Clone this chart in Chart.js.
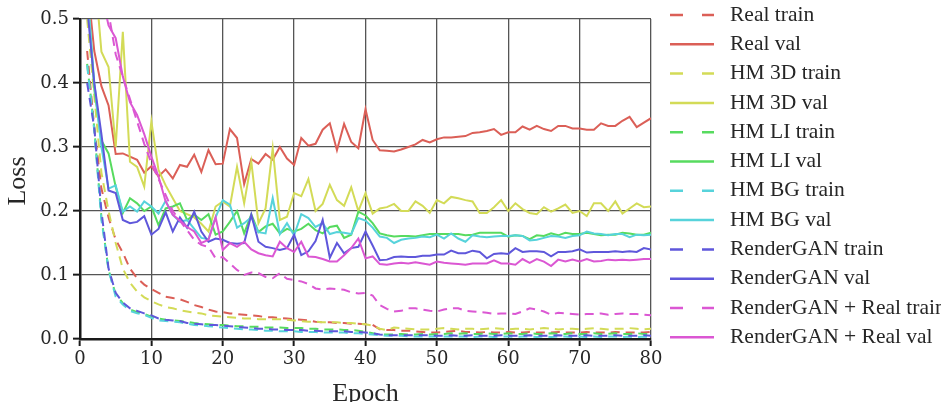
<!DOCTYPE html>
<html><head><meta charset="utf-8">
<script src="https://cdn.jsdelivr.net/npm/chart.js@4/dist/chart.umd.min.js"></script>
<style>html,body{margin:0;padding:0;background:#fff;overflow:hidden}canvas{display:block}</style>
</head><body>
<canvas id="c" width="941" height="402"></canvas>
<script>
const epochs = [1,2,3,4,5,6,7,8,9,10,11,12,13,14,15,16,17,18,19,20,21,22,23,24,25,26,27,28,29,30,31,32,33,34,35,36,37,38,39,40,41,42,43,44,45,46,47,48,49,50,51,52,53,54,55,56,57,58,59,60,61,62,63,64,65,66,67,68,69,70,71,72,73,74,75,76,77,78,79,80];

const seriesNames = ['Real train','Real val','HM 3D train','HM 3D val','HM LI train','HM LI val','HM BG train','HM BG val','RenderGAN train','RenderGAN val','RenderGAN + Real train','RenderGAN + Real val'];

const xTicks = [0,10,20,30,40,50,60,70,80];
const yTicks = [0.0,0.1,0.2,0.3,0.4,0.5];

const realTrain = [0.45,0.33,0.235,0.19,0.155,0.135,0.11,0.095,0.085,0.078,
0.072,0.066,0.064,0.062,0.058,0.053,0.05,0.046,0.043,0.042,
0.04,0.039,0.038,0.037,0.036,0.034,0.034,0.033,0.032,0.031,
0.03,0.029,0.027,0.026,0.026,0.025,0.025,0.024,0.024,0.023,
0.022,0.015,0.014,0.014,0.013,0.013,0.012,0.011,0.01,0.01,
0.011,0.012,0.013,0.011,0.011,0.01,0.011,0.01,0.01,0.011,
0.01,0.01,0.011,0.01,0.01,0.01,0.011,0.01,0.01,0.01,
0.011,0.01,0.01,0.01,0.011,0.01,0.01,0.01,0.01,0.011];

const realVal = [0.56,0.45,0.395,0.365,0.289,0.29,0.285,0.28,0.26,0.27,
0.254,0.265,0.251,0.272,0.269,0.288,0.261,0.295,0.273,0.274,
0.328,0.314,0.242,0.281,0.274,0.289,0.28,0.30,0.282,0.272,
0.314,0.302,0.305,0.327,0.337,0.295,0.336,0.308,0.298,0.359,
0.311,0.295,0.294,0.293,0.296,0.30,0.304,0.311,0.307,0.312,
0.315,0.315,0.316,0.317,0.322,0.323,0.325,0.328,0.319,0.323,
0.323,0.332,0.327,0.333,0.328,0.325,0.333,0.333,0.329,0.329,
0.327,0.327,0.337,0.333,0.333,0.341,0.347,0.331,0.338,0.345];

const hm3dTrain = [0.5,0.38,0.26,0.2,0.15,0.11,0.088,0.074,0.065,0.059,
0.054,0.05,0.048,0.045,0.043,0.041,0.04,0.037,0.036,0.035,
0.034,0.033,0.032,0.032,0.031,0.031,0.031,0.031,0.03,0.029,
0.028,0.027,0.027,0.026,0.026,0.026,0.025,0.025,0.024,0.023,
0.021,0.016,0.014,0.018,0.017,0.016,0.015,0.015,0.015,0.016,
0.017,0.016,0.015,0.016,0.016,0.015,0.016,0.017,0.016,0.015,
0.016,0.016,0.015,0.016,0.017,0.016,0.015,0.016,0.016,0.015,
0.016,0.017,0.016,0.015,0.016,0.016,0.017,0.016,0.015,0.016];

const hm3dVal = [0.75,0.58,0.449,0.425,0.30,0.48,0.277,0.269,0.238,0.34,
0.264,0.24,0.22,0.2,0.195,0.19,0.18,0.168,0.207,0.215,
0.207,0.269,0.212,0.277,0.181,0.204,0.298,0.186,0.191,0.228,
0.223,0.25,0.20,0.211,0.241,0.217,0.208,0.237,0.20,0.228,
0.196,0.204,0.206,0.211,0.20,0.20,0.215,0.208,0.197,0.217,
0.212,0.222,0.22,0.217,0.215,0.197,0.197,0.206,0.217,0.20,
0.212,0.203,0.197,0.195,0.206,0.199,0.204,0.21,0.197,0.20,
0.192,0.212,0.212,0.20,0.215,0.196,0.204,0.212,0.206,0.207];

const hmLiTrain = [0.43,0.33,0.19,0.108,0.07,0.056,0.046,0.042,0.039,0.035,
0.032,0.03,0.029,0.028,0.027,0.025,0.024,0.023,0.022,0.022,
0.021,0.02,0.02,0.019,0.019,0.018,0.018,0.018,0.017,0.017,
0.017,0.016,0.016,0.015,0.015,0.015,0.014,0.014,0.013,0.011,
0.009,0.007,0.007,0.007,0.008,0.007,0.007,0.008,0.007,0.008,
0.008,0.009,0.008,0.009,0.008,0.008,0.009,0.008,0.008,0.009,
0.008,0.008,0.009,0.008,0.008,0.009,0.008,0.008,0.009,0.008,
0.008,0.009,0.008,0.008,0.009,0.008,0.008,0.009,0.008,0.008];

const hmLiVal = [0.55,0.39,0.31,0.29,0.238,0.197,0.22,0.212,0.2,0.207,
0.178,0.204,0.207,0.212,0.186,0.194,0.186,0.195,0.163,0.168,
0.183,0.2,0.165,0.195,0.167,0.176,0.18,0.165,0.172,0.168,
0.172,0.18,0.17,0.165,0.175,0.177,0.158,0.163,0.199,0.193,
0.181,0.165,0.162,0.16,0.161,0.161,0.16,0.162,0.164,0.164,
0.164,0.164,0.164,0.162,0.163,0.166,0.166,0.166,0.166,0.16,
0.162,0.161,0.156,0.162,0.161,0.165,0.162,0.166,0.164,0.164,
0.166,0.164,0.162,0.163,0.163,0.166,0.165,0.163,0.163,0.166];

const hmBgTrain = [0.428,0.325,0.186,0.108,0.066,0.054,0.044,0.04,0.038,0.033,
0.029,0.028,0.027,0.026,0.024,0.022,0.021,0.02,0.019,0.018,
0.017,0.016,0.015,0.015,0.014,0.013,0.013,0.012,0.012,0.012,
0.011,0.011,0.011,0.01,0.01,0.01,0.01,0.009,0.009,0.008,
0.007,0.006,0.005,0.005,0.005,0.004,0.004,0.004,0.004,0.004,
0.004,0.004,0.004,0.004,0.003,0.004,0.004,0.003,0.004,0.004,
0.003,0.004,0.004,0.003,0.004,0.003,0.004,0.004,0.003,0.004,
0.003,0.004,0.003,0.004,0.004,0.003,0.004,0.003,0.004,0.003];

const hmBgVal = [0.55,0.4,0.3,0.235,0.24,0.199,0.207,0.199,0.215,0.207,
0.196,0.216,0.194,0.183,0.186,0.172,0.158,0.156,0.19,0.217,
0.21,0.174,0.181,0.19,0.167,0.165,0.22,0.164,0.181,0.162,
0.195,0.189,0.175,0.181,0.164,0.167,0.166,0.164,0.189,0.185,
0.174,0.16,0.158,0.15,0.155,0.157,0.158,0.16,0.159,0.163,
0.157,0.165,0.157,0.152,0.162,0.16,0.159,0.16,0.161,0.161,
0.162,0.161,0.154,0.155,0.158,0.161,0.16,0.158,0.161,0.162,
0.168,0.165,0.164,0.162,0.164,0.164,0.159,0.163,0.162,0.163];

const renderganTrain = [0.40,0.33,0.2,0.11,0.072,0.057,0.048,0.044,0.04,0.037,
0.032,0.03,0.029,0.028,0.025,0.024,0.023,0.022,0.022,0.021,
0.02,0.019,0.018,0.017,0.016,0.016,0.015,0.015,0.014,0.014,
0.014,0.013,0.013,0.012,0.012,0.012,0.012,0.011,0.011,0.01,
0.009,0.007,0.006,0.006,0.006,0.006,0.006,0.006,0.006,0.005,
0.005,0.006,0.005,0.005,0.006,0.005,0.005,0.005,0.006,0.005,
0.005,0.005,0.006,0.005,0.005,0.005,0.006,0.005,0.005,0.005,
0.006,0.005,0.005,0.005,0.006,0.005,0.005,0.005,0.006,0.005];

const renderganVal = [0.52,0.4,0.32,0.232,0.228,0.186,0.181,0.183,0.192,0.163,
0.172,0.198,0.168,0.19,0.174,0.199,0.168,0.152,0.157,0.155,
0.15,0.149,0.15,0.194,0.152,0.144,0.142,0.139,0.142,0.163,
0.131,0.137,0.153,0.186,0.127,0.15,0.134,0.142,0.144,0.168,
0.146,0.123,0.124,0.128,0.129,0.128,0.128,0.13,0.13,0.132,
0.132,0.138,0.134,0.134,0.138,0.136,0.126,0.133,0.134,0.133,
0.142,0.136,0.137,0.137,0.136,0.129,0.136,0.136,0.137,0.14,
0.135,0.136,0.136,0.136,0.137,0.136,0.137,0.136,0.142,0.14];

const renderganRealTrain = [0.75,0.64,0.56,0.51,0.445,0.41,0.375,0.34,0.305,0.275,
0.25,0.225,0.2,0.185,0.17,0.155,0.147,0.144,0.126,0.128,
0.118,0.108,0.1,0.104,0.103,0.097,0.095,0.103,0.094,0.092,
0.09,0.086,0.079,0.077,0.079,0.078,0.077,0.073,0.071,0.072,
0.068,0.053,0.047,0.043,0.044,0.048,0.048,0.046,0.044,0.043,
0.046,0.048,0.048,0.044,0.043,0.042,0.041,0.039,0.04,0.04,
0.039,0.043,0.048,0.046,0.043,0.038,0.041,0.04,0.039,0.038,
0.039,0.039,0.04,0.038,0.039,0.04,0.039,0.039,0.038,0.037];

const renderganRealVal = [0.75,0.62,0.54,0.49,0.47,0.41,0.37,0.35,0.32,0.285,
0.254,0.215,0.194,0.185,0.175,0.168,0.15,0.155,0.19,0.139,
0.15,0.144,0.152,0.14,0.134,0.131,0.129,0.152,0.142,0.136,
0.152,0.129,0.128,0.125,0.121,0.121,0.131,0.142,0.157,0.126,
0.129,0.117,0.116,0.118,0.119,0.118,0.12,0.118,0.116,0.121,
0.119,0.118,0.117,0.116,0.118,0.118,0.118,0.123,0.118,0.118,
0.116,0.125,0.119,0.125,0.121,0.114,0.124,0.121,0.124,0.121,
0.125,0.121,0.122,0.124,0.123,0.124,0.123,0.124,0.125,0.125];

const seriesValues = [realTrain, realVal, hm3dTrain, hm3dVal, hmLiTrain, hmLiVal, hmBgTrain, hmBgVal, renderganTrain, renderganVal, renderganRealTrain, renderganRealVal];
const palette = ['#db5f57','#d3db57','#57db5f','#57d3db','#5f57db','#db57d3'];

const datasets = seriesValues.map((vals, i) => ({
  label: seriesNames[i],
  data: epochs.map((e, k) => ({x: e, y: vals[k]})),
  borderColor: palette[Math.floor(i / 2)],
  borderWidth: 2,
  borderDash: i % 2 === 0 ? [9, 6] : [],
  pointRadius: 0,
  tension: 0,
  fill: false,
  order: seriesValues.length - i
}));

const TEXT = '#262626';

const overlay = {
  id: 'overlay',
  afterDraw(chart) {
    const ctx = chart.ctx, area = chart.chartArea;
    ctx.save();
    chart.data.datasets.forEach((ds, i) => {
      const y = 15 + i * 29.3;
      ctx.strokeStyle = ds.borderColor;
      ctx.lineWidth = 2.5;
      ctx.setLineDash(ds.borderDash.length ? [13, 19] : []);
      ctx.beginPath(); ctx.moveTo(670, y); ctx.lineTo(714, y); ctx.stroke();
      ctx.setLineDash([]);
      ctx.fillStyle = TEXT;
      ctx.font = '21.5px "Liberation Serif"';
      ctx.textBaseline = 'middle';
      ctx.textAlign = 'left';
      ctx.fillText(ds.label, 730, y);
    });
    ctx.fillStyle = TEXT;
    ctx.font = '26px "Liberation Serif"';
    ctx.textAlign = 'center';
    ctx.textBaseline = 'alphabetic';
    ctx.fillText('Epoch', (area.left + area.right) / 2, 401);
    ctx.translate(25, (area.top + area.bottom) / 2 + 2);
    ctx.rotate(-Math.PI / 2);
    ctx.fillText('Loss', 0, 0);
    ctx.restore();
  }
};

new Chart(document.getElementById('c'), {
  type: 'line',
  data: { datasets },
  options: {
    responsive: false,
    animation: false,
    devicePixelRatio: 1,
    layout: { padding: { left: 0, right: 290, top: 19, bottom: 0 } },
    plugins: { legend: { display: false }, tooltip: { enabled: false } },
    scales: {
      x: {
        type: 'linear', min: 0, max: 80,
        afterBuildTicks(s) { s.ticks = xTicks.map(v => ({value: v})); },
        ticks: { color: TEXT, font: { family: 'DejaVu Serif', size: 18 }, padding: 3, maxRotation: 0, callback: v => String(v) },
        grid: { color: '#555555', lineWidth: 1.3, tickColor: '#1a1a1a', tickLength: 7, tickWidth: 2 },
        border: { color: '#1a1a1a', width: 2.5 },
        afterFit(s) { s.height = 63; }
      },
      y: {
        type: 'linear', min: 0, max: 0.5,
        afterBuildTicks(s) { s.ticks = yTicks.map(v => ({value: v})); },
        ticks: { color: TEXT, font: { family: 'DejaVu Serif', size: 18 }, padding: 4, callback: v => Number(v).toFixed(1) },
        grid: { color: '#555555', lineWidth: 1.3, tickColor: '#1a1a1a', tickLength: 7, tickWidth: 2 },
        border: { color: '#1a1a1a', width: 2.5 },
        afterFit(s) { s.width = 80; }
      }
    }
  },
  plugins: [overlay]
});
</script>
</body></html>
